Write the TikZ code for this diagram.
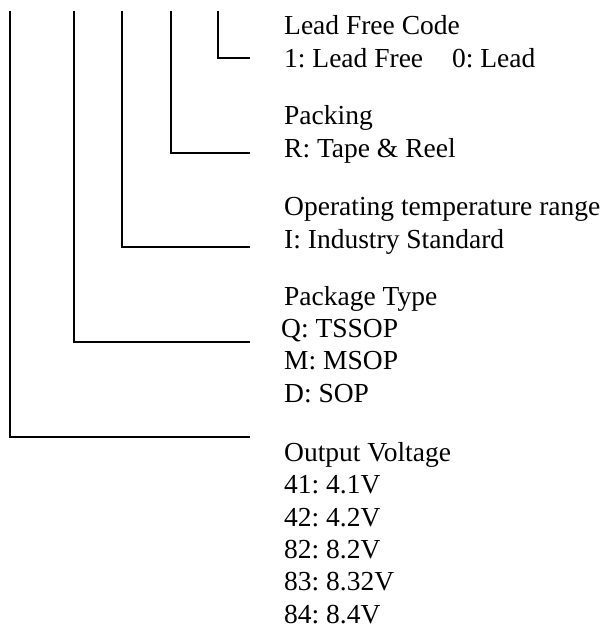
\documentclass[tikz,border=0pt]{standalone}
\usepackage{fontspec}
\setmainfont{Liberation Serif}
\usetikzlibrary{positioning}
\frenchspacing

\begin{document}
\begin{tikzpicture}[x=1pt,y=-1pt]
\tikzstyle{leader}=[line width=2pt]
\tikzstyle{lbl}=[anchor=base west, inner sep=0pt, align=left, font=\fontsize{27.5}{32.3}\selectfont]
\useasboundingbox (0,0) rectangle (607,626);
% tops of the code letters
\coordinate (tVolt) at (10,11);
\coordinate (tPkg) at (74,11);
\coordinate (tTemp) at (122,11);
\coordinate (tPack) at (171,11);
\coordinate (tLead) at (218,11);
% ends of the leaders
\coordinate (eLead) at (250,58);
\coordinate (ePack) at (250,153);
\coordinate (eTemp) at (250,247);
\coordinate (ePkg) at (250,342);
\coordinate (eVolt) at (250,437);
% field descriptions (anchored on their last line)
\node[lbl] (lead) at (284,67) {Lead Free Code\\1: Lead Free\hspace{29pt}0: Lead};
\node[lbl] (pack) at (284,157) {Packing\\R: Tape \& Reel};
\node[lbl] (temp) at (284,248) {Operating temperature range\\I: Industry Standard};
\node[lbl] (pkg) at (284,402) {Package Type\\\hspace{-3pt}Q: TSSOP\\M: MSOP\\D: SOP};
\node[lbl] (volt) at (284,623) {Output Voltage\\41: 4.1V\\42: 4.2V\\82: 8.2V\\83: 8.32V\\84: 8.4V};
% leaders
\draw[leader] (tLead) |- (eLead);
\draw[leader] (tPack) |- (ePack);
\draw[leader] (tTemp) |- (eTemp);
\draw[leader] (tPkg) |- (ePkg);
\draw[leader] (tVolt) |- (eVolt);
\end{tikzpicture}
\end{document}
